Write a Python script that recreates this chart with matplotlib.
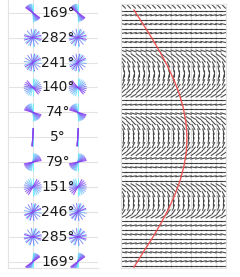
import numpy as np
import matplotlib
matplotlib.use("Agg")
import matplotlib.pyplot as plt
from matplotlib.collections import LineCollection
from matplotlib.colors import LinearSegmentedColormap

# ---- data ----
row_labels = [169, 282, 241, 140, 74, 5, 79, 151, 246, 285, 169]
glyph_start = [90, 90, 90, 90, 90, 90, 90, 90, 90, 90, 90]
glyph_sweep = [-55, 282, 241, 140, -74, 5, 79, -151, 246, 285, 55]
glyph_cols = [0, 1]

field_angles = [135, 0, 12, 0, -12, 0, 12, 0, -12, 0,
                160, 145, 130, 115, 100, 90, 80, 68, 55, 42,
                30, 0, 10, 0, 165, 150, 135, 120, 105, 92,
                80, 65, 50, 35, 15, 0, -10, 0, 10, 0,
                150, 135, 118, 102, 88, 72, 55, 30, 0, 12,
                0, -12, 0, 12, 0, -12, 0, 12, 0]
n_field_cols = 21

red_x = [2.1, 3.9, 5.66, 7.3, 8.8, 10.1, 11.16, 11.96, 12.48, 12.7,
         12.56, 12.1, 11.36, 10.34, 9.1, 7.64, 6.02, 4.22, 2.1]
red_y = [0.85, 3.98, 7.1, 10.23, 13.36, 16.5, 19.6, 22.75, 25.9, 29.2,
         32.6, 35.7, 38.8, 41.96, 45.1, 48.2, 51.35, 54.5, 58.3]

W, H = 240, 277
fig = plt.figure(figsize=(W / 100, H / 100), dpi=100)

def px_axes(x0, y0, x1, y1):
    return fig.add_axes([x0 / W, 1 - y1 / H, (x1 - x0) / W, (y1 - y0) / H])

grid_c = "#e3e3e3"
cmap = LinearSegmentedColormap.from_list("cp", ["#6ff3ff", "#8a3cf0"])

# ---- left panel ----
axL = px_axes(8, -1, 98, 268)
n_rows = len(row_labels)
axL.set_xlim(-0.55, 1.45)
axL.set_ylim(n_rows - 1 + 0.25, -0.55)
axL.set_xticks(glyph_cols)
axL.set_yticks(range(n_rows))
axL.tick_params(length=0, labelleft=False, labelbottom=False)
axL.grid(True, color=grid_c, lw=0.8)
axL.set_axisbelow(True)
for s in ["top", "right"]:
    axL.spines[s].set_visible(False)
for s in ["left", "bottom"]:
    axL.spines[s].set_color(grid_c)
    axL.spines[s].set_linewidth(0.8)

bbL = axL.get_position()
pxu_x = bbL.width * W / 2.0
pxu_y = bbL.height * H / (n_rows - 1 + 0.8)
half = 9.0
n_lines = 11
for i, (lab, st, sw) in enumerate(zip(row_labels, glyph_start, glyph_sweep)):
    angs = np.deg2rad(st - np.linspace(0, sw, n_lines))
    cols = cmap(np.linspace(0, 1, n_lines))
    for c in glyph_cols:
        segs = []
        for a in angs:
            dx = half * np.cos(a) / pxu_x
            dy = -half * np.sin(a) / pxu_y
            segs.append([(c - dx, i - dy), (c + dx, i + dy)])
        axL.add_collection(LineCollection(segs, colors=cols, lw=0.75, alpha=0.9))
    axL.text(0.56, i, f"{lab}°", ha="center", va="center", fontsize=10,
             color="#1a1a1a")

# ---- right panel ----
axR = px_axes(121, 4, 226, 268)
nr = len(field_angles)
axR.set_xlim(-0.5, n_field_cols - 0.5)
axR.set_ylim(nr - 0.5, -0.5)
axR.set_xticks([4.5, 9.5, 13.5, 18.5])
axR.set_yticks([])
axR.tick_params(length=0, labelbottom=False)
axR.grid(True, axis="x", color=grid_c, lw=0.8)
axR.set_axisbelow(True)
for s in axR.spines.values():
    s.set_color(grid_c)
    s.set_linewidth(0.8)

bbR = axR.get_position()
rx = bbR.width * W / n_field_cols
ry = bbR.height * H / nr
seg_half = 3.3
segs = []
for k, a in enumerate(field_angles):
    ar = np.deg2rad(a)
    dx = seg_half * np.cos(ar) / rx
    dy = -seg_half * np.sin(ar) / ry
    for c in range(n_field_cols):
        segs.append([(c - dx, k - dy), (c + dx, k + dy)])
axR.add_collection(LineCollection(segs, colors="#2e2e2e", lw=0.8, alpha=0.85))
axR.plot(red_x, red_y, color="#f04a4a", lw=1.0, alpha=0.9)

fig.savefig("out.png", dpi=100)
